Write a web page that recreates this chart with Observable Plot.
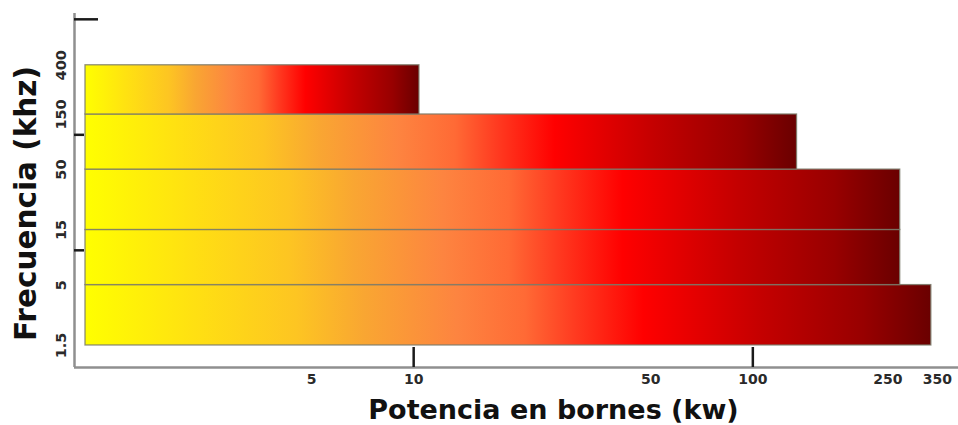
<!DOCTYPE html>
<html><head><meta charset="utf-8">
<script src="https://cdn.jsdelivr.net/npm/d3@7"></script>
<script src="https://cdn.jsdelivr.net/npm/@observablehq/plot@0.6"></script>
<style>body{margin:0;background:#fff} #chart svg{display:block}</style>
</head><body><div id="chart"></div>
<script>
// Frequency bands (kHz) and maximum power (kW)
const bandLow  = [1.5, 5, 15, 50, 150];
const bandHigh = [5, 15, 50, 150, 400];
const maxPower = [336, 272, 272, 135, 10.4];

const freqTicks = [1.5, 5, 15, 50, 150, 400];
const freqTickLabels = ["1.5", "5", "15", "50", "150", "400"];
const powerTicks = [5, 10, 50, 100, 250, 350];
const powerTickLabels = ["5", "10", "50", "100", "250", "350"];
const powerTickMarks = [10, 100];
const freqTickMarksShort = [10, 100];
const freqTickMarksLong = [1000];

const xTitle = "Potencia en bornes (kw)";
const yTitle = "Frecuencia (khz)";

const xDomain = [1, 404];
const yDomain = [0.967, 1123];

const bands = bandLow.map((lo, i) => ({lo, hi: bandHigh[i], power: maxPower[i]}));
const xTickLabelRows = powerTicks.map((v, i) => ({v, label: powerTickLabels[i]}));
const yTickLabelRows = freqTicks.map((v, i) => ({v, label: freqTickLabels[i]}));

const W = 958, H = 425, ML = 74, MR = 0, MT = 13, MB = 58;
const frameW = W - ML - MR;

const chart = Plot.plot({
  width: W, height: H,
  marginLeft: ML, marginRight: MR, marginTop: MT, marginBottom: MB,
  style: {fontFamily: "'DejaVu Sans', Verdana, sans-serif", background: "#fff", overflow: "visible"},
  x: {type: "log", domain: xDomain, axis: null},
  y: {type: "log", domain: yDomain, axis: null},
  marks: [
    Plot.rect(bands, {
      x1: () => xDomain[0], x2: "power", y1: "lo", y2: "hi",
      fill: "url(#heat)", stroke: "#7a7a6a", strokeOpacity: 0.85, strokeWidth: 1.3,
      insetLeft: 11
    }),
    // axis lines
    Plot.ruleX([xDomain[0]], {stroke: "#8f8f8f", strokeWidth: 2.5}),
    Plot.ruleY([yDomain[0]], {stroke: "#8f8f8f", strokeWidth: 2.5}),
    // tick marks
    Plot.tickX(powerTickMarks, {x: d => d, stroke: "#1a1a1a", strokeWidth: 2.5, insetTop: 334}),
    Plot.tickY(freqTickMarksShort, {y: d => d, stroke: "#1a1a1a", strokeWidth: 2.5, insetRight: frameW - 10}),
    Plot.tickY(freqTickMarksLong, {y: d => d, stroke: "#1a1a1a", strokeWidth: 2.5, insetRight: frameW - 24}),
    // tick labels
    Plot.text(xTickLabelRows, {
      x: "v", text: "label", frameAnchor: "bottom", dy: 12,
      fontSize: 14, fontWeight: "bold", fill: "#2a2a2a", textAnchor: "middle", lineAnchor: "middle"
    }),
    Plot.text(yTickLabelRows, {
      y: "v", text: "label", frameAnchor: "left", dx: -13, rotate: -90,
      fontSize: 14.5, fontWeight: "bold", fill: "#2a2a2a", textAnchor: "middle", lineAnchor: "middle"
    }),
    // titles
    Plot.text([xTitle], {
      frameAnchor: "bottom", dx: 553 - (ML + frameW / 2), dy: 43,
      fontSize: 27, fontWeight: "bold", fill: "#111", textAnchor: "middle", lineAnchor: "middle"
    }),
    Plot.text([yTitle], {
      frameAnchor: "left", dx: 26 - ML, dy: 203 - (MT + (H - MT - MB) / 2), rotate: -90,
      fontSize: 29.5, fontWeight: "bold", fill: "#111", textAnchor: "middle", lineAnchor: "middle"
    })
  ]
});

const gradStops = [
  [0, "#ffff00"], [0.13, "#ffe012"], [0.25, "#fdc522"], [0.33, "#f9a632"],
  [0.44, "#fd8440"], [0.52, "#ff6a35"], [0.58, "#ff3a20"], [0.66, "#ff0000"],
  [0.8, "#c40000"], [0.92, "#980000"], [1, "#6a0000"]
];
const grad = d3.select(chart).insert("defs", ":first-child")
  .append("linearGradient").attr("id", "heat")
  .attr("x1", "0").attr("y1", "0").attr("x2", "1").attr("y2", "0");
gradStops.forEach(([o, c]) => grad.append("stop").attr("offset", o).attr("stop-color", c));

document.getElementById("chart").appendChild(chart);
</script>
</body></html>
